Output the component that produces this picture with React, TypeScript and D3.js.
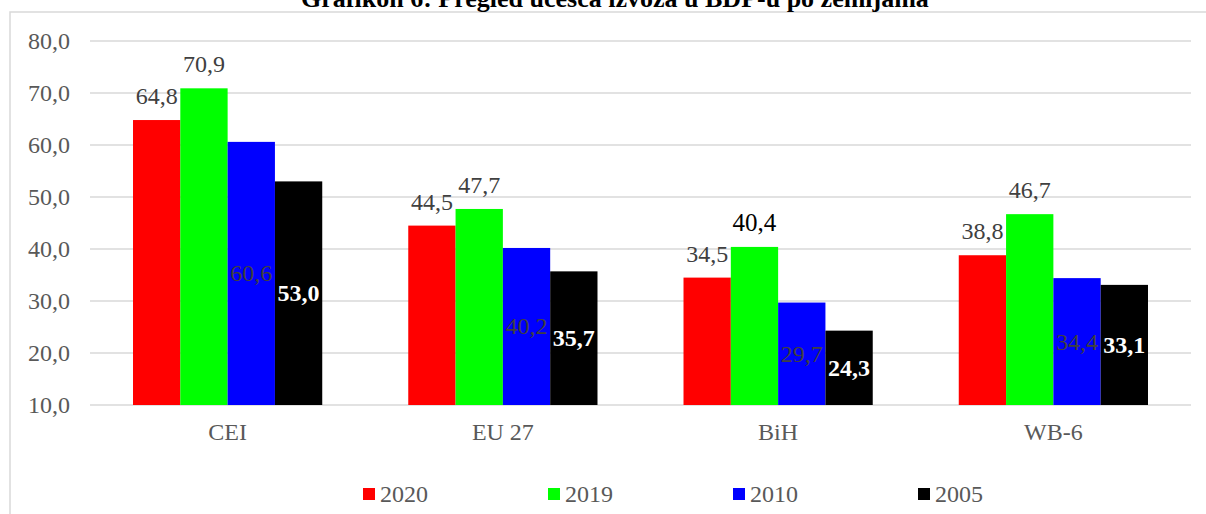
import React from "react";
import * as d3 from "d3";

const categories = ["CEI", "EU 27", "BiH", "WB-6"];
const seriesNames = ["2020", "2019", "2010", "2005"];
const values2020 = [64.8, 44.5, 34.5, 38.8];
const values2019 = [70.9, 47.7, 40.4, 46.7];
const values2010 = [60.6, 40.2, 29.7, 34.4];
const values2005 = [53.0, 35.7, 24.3, 33.1];
const yTicks = [10, 20, 30, 40, 50, 60, 70, 80];
const title = "Grafikon 6: Pregled učešća izvoza u BDP-u po zemljama";

const seriesValues = [values2020, values2019, values2010, values2005];
const colors = ["#ff0000", "#00ff00", "#0000ff", "#000000"];
const fmt = (v: number) => v.toFixed(1).replace(".", ",");

export default function App() {
  const W = 1206, H = 514;
  const left = 90, right = 1191, top = 41, bottom = 405;
  const y = d3.scaleLinear().domain([10, 80]).range([bottom, top]);
  const x0 = d3.scaleBand<string>().domain(categories).range([left, right]).paddingInner(0.3125).paddingOuter(0.15625);
  const x1 = d3.scaleBand<string>().domain(seriesNames).range([0, x0.bandwidth()]).padding(0);
  const font = "'Liberation Serif', 'Times New Roman', serif";
  const legendX = d3.scalePoint<string>().domain(seriesNames).range([363, 918]);

  return (
    <svg width={W} height={H} style={{ position: "absolute", left: 0, top: 0, background: "#fff" }} fontFamily={font}>
      <rect x={0} y={0} width={W} height={H} fill="#fff" />
      <rect x={10} y={12} width={1400} height={700} fill="none" stroke="#d9d9d9" strokeWidth={1.5} />
      <text x={615} y={7} textAnchor="middle" fontSize={26} fontWeight="bold" fill="#000">{title}</text>
      {yTicks.map((t) => (
        <g key={t}>
          <line x1={left} x2={right} y1={y(t)} y2={y(t)} stroke="#d9d9d9" strokeWidth={1.5} />
          <text x={70} y={y(t) + 8} textAnchor="end" fontSize={24} fill="#595959">{fmt(t)}</text>
        </g>
      ))}
      {categories.map((c, ci) => (
        <g key={c}>
          {seriesNames.map((s, si) => {
            const v = seriesValues[si][ci];
            const bx = (x0(c) as number) + (x1(s) as number);
            const bw = x1.bandwidth();
            return (
              <rect key={s} x={bx} y={y(v)} width={bw} height={bottom - y(v)} fill={colors[si]} />
            );
          })}
          <text x={(x0(c) as number) + x0.bandwidth() / 2} y={440} textAnchor="middle" fontSize={24} fill="#595959">{c}</text>
        </g>
      ))}
      {categories.map((c, ci) =>
        seriesNames.map((s, si) => {
          const v = seriesValues[si][ci];
          const cx = (x0(c) as number) + (x1(s) as number) + x1.bandwidth() / 2;
          if (si < 2) {
            const isBlack = si === 1 && c === "BiH";
            return (
              <text key={c + s} x={cx} y={y(v) - 16} textAnchor="middle" fontSize={isBlack ? 25 : 24} fill={isBlack ? "#000" : "#404040"}>{fmt(v)}</text>
            );
          }
          const cy = (y(v) + bottom) / 2 + 8;
          return (
            <text key={c + s} x={cx} y={cy} textAnchor="middle" fontSize={24} fontWeight={si === 3 ? "bold" : "normal"} fill={si === 3 ? "#fff" : "#404040"}>{fmt(v)}</text>
          );
        })
      )}
      {seriesNames.map((s, si) => (
        <g key={s}>
          <rect x={legendX(s) as number} y={488} width={12} height={12} fill={colors[si]} />
          <text x={(legendX(s) as number) + 17} y={502} fontSize={24} fill="#595959">{s}</text>
        </g>
      ))}
    </svg>
  );
}
